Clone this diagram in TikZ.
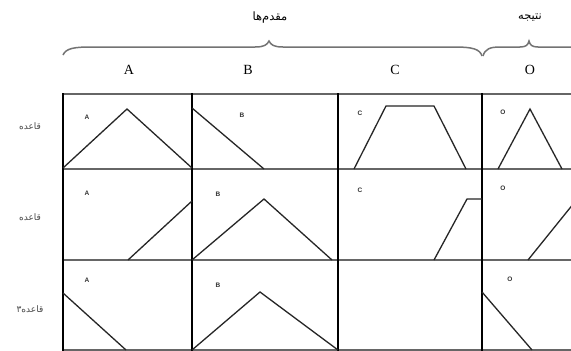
\documentclass[tikz,border=0pt]{standalone}
\usepackage{fontspec}
\setmainfont{Liberation Serif}
\setsansfont{Liberation Sans}
\newfontfamily\arabicfont[Script=Arabic]{DejaVu Sans}
\TeXXeTstate=1
\begin{document}
\begin{tikzpicture}[x=1pt,y=-1pt,
  hline/.style={draw=black!60, line width=1.7pt},
  vline/.style={draw=black, line width=1.3pt},
  shapeline/.style={draw=black!85, line width=1.3pt, line join=miter},
  bracestyle/.style={draw=black!55, line width=1.5pt},
  colhead/.style={font=\fontsize{14}{14}\selectfont, inner sep=0pt},
  celllab/.style={font=\sffamily\bfseries\fontsize{6.5}{6.5}\selectfont, text=black!80, inner sep=0pt},
  arhead/.style={font=\arabicfont\fontsize{11.5}{11.5}\selectfont, inner sep=0pt},
  rowlab/.style={font=\arabicfont\fontsize{9}{9}\selectfont, text=black!70, inner sep=0pt}]
\useasboundingbox (0,0) rectangle (571,351);
\clip (0,0) rectangle (571,351);
\fill[white] (0,0) rectangle (571,351);

% headers
\node[arhead] (ant) at (270,18) {\beginR مقدم‌ها\endR};
\node[arhead] (res) at (530,18) {\beginR نتیجه\endR};
\draw[bracestyle] (63,55) .. controls (66,48) and (75,47) .. (92,47) -- (255,47)
  .. controls (264,47) and (267,45) .. (269,41) .. controls (271,45) and (274,47) .. (283,47)
  -- (455,47) .. controls (472,47) and (480,49) .. (482,56);
\draw[bracestyle] (483,56) .. controls (485,49) and (490,47) .. (500,47) -- (520,47)
  .. controls (526,47) and (528,45) .. (529,41) .. controls (530,45) and (532,47) .. (538,47) -- (571,47);
\node[colhead] (hA) at (129,70) {A};
\node[colhead] (hB) at (248,70) {B};
\node[colhead] (hC) at (395,70) {C};
\node[colhead] (hO) at (530,70) {O};

% row labels
\node[rowlab] (r1) at (30,126) {\beginR قاعده\endR};
\node[rowlab] (r2) at (30,217) {\beginR قاعده\endR};
\node[rowlab] (r3) at (30,309) {\beginR قاعده۳\endR};

% grid
\foreach \yy in {94,169,260,350} \draw[hline] (63,\yy) -- (571,\yy);
\foreach \xx in {63,192,338,482} \draw[vline] (\xx,93) -- (\xx,351);

% row 1
\node[celllab] (a1) at (87,117) {A};
\draw[shapeline] (63,168) -- (127,109) -- (192,168);
\node[celllab] (b1) at (242,115) {B};
\draw[shapeline] (192,108) -- (264,169);
\node[celllab] (c1) at (360,113) {C};
\draw[shapeline] (354,169) -- (386,106) -- (434,106) -- (466,169);
\node[celllab] (o1) at (503,112) {O};
\draw[shapeline] (498,169) -- (530,109) -- (562,169);

% row 2
\node[celllab] (a2) at (87,193) {A};
\draw[shapeline] (128,260) -- (192,201);
\node[celllab] (b2) at (218,194) {B};
\draw[shapeline] (192,260) -- (264,199) -- (332,260);
\node[celllab] (c2) at (360,190) {C};
\draw[shapeline] (434,260) -- (467,199) -- (482,199);
\node[celllab] (o2) at (503,188) {O};
\draw[shapeline] (528,260) -- (578,198);

% row 3
\node[celllab] (a3) at (87,280) {A};
\draw[shapeline] (63,293) -- (126,350);
\node[celllab] (b3) at (218,285) {B};
\draw[shapeline] (192,350) -- (260,292) -- (338,350);
\node[celllab] (o3) at (510,279) {O};
\draw[shapeline] (482,292) -- (532,350);
\end{tikzpicture}
\end{document}
